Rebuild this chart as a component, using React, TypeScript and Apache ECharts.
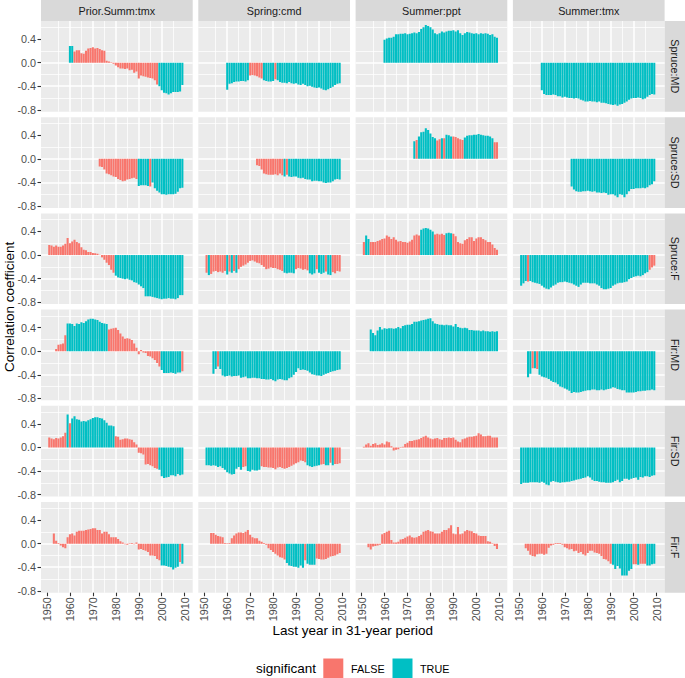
import React, { useEffect, useRef } from 'react';
import * as echarts from 'echarts';

// ---------- labels / ticks ----------
const colLabels = ['Prior.Summ:tmx', 'Spring:cmd', 'Summer:ppt', 'Summer:tmx'];
const rowLabels = ['Spruce:MD', 'Spruce:SD', 'Spruce:F', 'Fir:MD', 'Fir:SD', 'Fir:F'];
const rowStartYears = [1960, 1973, 1951, 1954, 1951, 1953];
const xTickYears = [1950, 1960, 1970, 1980, 1990, 2000, 2010];
const yTickValues = [-0.8, -0.4, 0, 0.4];
const legendLabels = ['FALSE', 'TRUE'];
const xTitle = 'Last year in 31-year period';
const yTitle = 'Correlation coefficient';
const legendTitle = 'significant';

// ---------- Spruce:MD (from 1960) ----------
const spruceMD_priorTmx = [0.28, 0.28, 0.19, 0.21, 0.21, 0.16, 0.15, 0.2, 0.24, 0.25,
  0.26, 0.24, 0.25, 0.23, 0.21, 0.2, 0.03, 0.02, 0.005, -0.02,
  -0.05, -0.08, -0.1, -0.1, -0.11, -0.1, -0.13, -0.12, -0.17, -0.15,
  -0.27, -0.22, -0.23, -0.24, -0.25, -0.26, -0.27, -0.3, -0.37, -0.4,
  -0.47, -0.51, -0.52, -0.54, -0.52, -0.5, -0.5, -0.5, -0.49, -0.38];
const spruceMD_priorTmx_sig = 'TTFFFFFFFF FFFFFFFFFF FFFFFFFFFF FFFFFFFFFT TTTTTTTTTT';
const spruceMD_springCmd = [-0.46, -0.36, -0.35, -0.33, -0.32, -0.32, -0.31, -0.31, -0.32, -0.3,
  -0.22, -0.21, -0.22, -0.23, -0.25, -0.27, -0.3, -0.31, -0.32, -0.32,
  -0.31, -0.28, -0.3, -0.33, -0.34, -0.34, -0.35, -0.33, -0.35, -0.36,
  -0.35, -0.37, -0.38, -0.36, -0.38, -0.4, -0.39, -0.41, -0.42, -0.43,
  -0.42, -0.44, -0.46, -0.47, -0.45, -0.43, -0.41, -0.38, -0.36, -0.35];
const spruceMD_springCmd_sig = 'TTTTTTTTTT FFFFFFTTTT TFTTTTTTTT TTTTTTTTTT TTTTTTTTTT';
const spruceMD_summerPpt = [0.39, 0.41, 0.42, 0.42, 0.44, 0.48, 0.48, 0.49, 0.49, 0.5,
  0.48, 0.49, 0.5, 0.51, 0.5, 0.52, 0.57, 0.6, 0.64, 0.62,
  0.6, 0.56, 0.5, 0.48, 0.5, 0.53, 0.51, 0.53, 0.54, 0.54,
  0.55, 0.53, 0.55, 0.5, 0.47, 0.5, 0.52, 0.51, 0.5, 0.49,
  0.5, 0.48, 0.5, 0.49, 0.5, 0.49, 0.47, 0.48, 0.44, 0.42];
const spruceMD_summerPpt_sig = 'TTTTTTTTTT TTTTTTTTTT TTTTTTTTTT TTTTTTTTTT TTTTTTTTTT';
const spruceMD_summerTmx = [-0.47, -0.53, -0.55, -0.55, -0.55, -0.54, -0.55, -0.57, -0.57, -0.59,
  -0.58, -0.59, -0.6, -0.6, -0.61, -0.6, -0.61, -0.63, -0.64, -0.66,
  -0.66, -0.65, -0.66, -0.66, -0.67, -0.66, -0.68, -0.68, -0.69, -0.7,
  -0.71, -0.72, -0.71, -0.73, -0.71, -0.7, -0.68, -0.66, -0.63, -0.61,
  -0.6, -0.6, -0.59, -0.6, -0.62, -0.61, -0.58, -0.55, -0.53, -0.54];
const spruceMD_summerTmx_sig = 'TTTTTTTTTT TTTTTTTTTT TTTTTTTTTT TTTTTTTTTT TTTTTTTTTT';

// ---------- Spruce:SD (from 1973) ----------
const spruceSD_priorTmx = [-0.13, -0.14, -0.18, -0.25, -0.26, -0.28, -0.3,
  -0.31, -0.34, -0.36, -0.38, -0.37, -0.35, -0.34, -0.33, -0.32, -0.34,
  -0.46, -0.45, -0.45, -0.45, -0.46, -0.47, -0.4, -0.5, -0.54, -0.57,
  -0.6, -0.6, -0.61, -0.6, -0.6, -0.6, -0.59, -0.56, -0.5, -0.49];
const spruceSD_priorTmx_sig = 'FFFFFFF FFFFFFFFFF TTTTTFTTTT TTTTTTTTTT';
const spruceSD_springCmd = [-0.11, -0.12, -0.18, -0.25, -0.26, -0.27, -0.27,
  -0.27, -0.26, -0.28, -0.25, -0.28, -0.3, -0.27, -0.3, -0.31, -0.3,
  -0.3, -0.32, -0.33, -0.32, -0.34, -0.35, -0.35, -0.38, -0.37, -0.37,
  -0.38, -0.38, -0.4, -0.41, -0.4, -0.4, -0.38, -0.35, -0.34, -0.35];
const spruceSD_springCmd_sig = 'FFFFFFF FFFFFTFTTT TTTTTTTTTT TTTTTTTTTT';
const spruceSD_summerPpt = [0.3, 0.32, 0.38, 0.45, 0.46, 0.52, 0.49,
  0.43, 0.37, 0.35, 0.31, 0.33, 0.35, 0.35, 0.41, 0.4, 0.38,
  0.38, 0.37, 0.35, 0.33, 0.32, 0.36, 0.39, 0.4, 0.4, 0.41,
  0.41, 0.42, 0.41, 0.4, 0.39, 0.39, 0.38, 0.35, 0.28, 0.28];
const spruceSD_summerPpt_sig = 'TFTTTTT TTTFFTFTTT FFFFFTTTTT TTTTTTTTFF';
const spruceSD_summerTmx = [-0.47, -0.52, -0.55, -0.56, -0.56, -0.55, -0.55,
  -0.54, -0.55, -0.56, -0.55, -0.57, -0.57, -0.58, -0.57, -0.58, -0.61,
  -0.6, -0.6, -0.62, -0.65, -0.6, -0.61, -0.65, -0.6, -0.55, -0.51,
  -0.51, -0.5, -0.5, -0.5, -0.49, -0.5, -0.48, -0.45, -0.43, -0.38];
const spruceSD_summerTmx_sig = 'TTTTTTT TTTTTTTTTT TTTTTTTTTT TTTTTTTTTT';

// ---------- Spruce:F (from 1951) ----------
const spruceF_priorTmx = [0.17, 0.16, 0.14, 0.16, 0.14, 0.14, 0.16, 0.19, 0.29,
  0.2, 0.23, 0.26, 0.22, 0.2, 0.13, 0.09, 0.08, 0.05, 0.05,
  0.035, 0.03, 0.02, 0.005, -0.04, -0.08, -0.13, -0.17, -0.25, -0.3,
  -0.35, -0.38, -0.39, -0.4, -0.41, -0.4, -0.42, -0.43, -0.46, -0.47,
  -0.5, -0.53, -0.56, -0.7, -0.7, -0.7, -0.71, -0.72, -0.73, -0.74,
  -0.75, -0.74, -0.74, -0.73, -0.74, -0.74, -0.75, -0.73, -0.68, -0.68];
const spruceF_priorTmx_sig = 'FFFFFFFFF FFFFFFFFFF FFFFFFFFFF TTTTTTTTTT TTTTTTTTTT TTTTTTTTTT';
const spruceF_springCmd = [-0.3, -0.34, -0.32, -0.28, -0.27, -0.29, -0.28, -0.3, -0.27,
  -0.33, -0.28, -0.3, -0.27, -0.3, -0.24, -0.2, -0.18, -0.16, -0.13,
  -0.1, -0.09, -0.11, -0.13, -0.14, -0.17, -0.2, -0.24, -0.23, -0.21,
  -0.22, -0.22, -0.24, -0.25, -0.27, -0.3, -0.31, -0.3, -0.3, -0.31,
  -0.24, -0.22, -0.23, -0.25, -0.24, -0.26, -0.31, -0.33, -0.31, -0.24,
  -0.3, -0.32, -0.3, -0.28, -0.33, -0.34, -0.29, -0.31, -0.27, -0.28];
const spruceF_springCmd_sig = 'FTFFFFFFF TFTFTFFFFF FFFFFFFFFF FFFFFTTTTT FFFFFFTTTF TTTFTTFFFF';
const spruceF_summerPpt = [0.22, 0.33, 0.27, 0.22, 0.22, 0.22, 0.24, 0.25, 0.27,
  0.28, 0.33, 0.31, 0.27, 0.3, 0.26, 0.23, 0.24, 0.22, 0.22,
  0.21, 0.23, 0.26, 0.33, 0.35, 0.33, 0.43, 0.45, 0.46, 0.45,
  0.43, 0.4, 0.35, 0.36, 0.35, 0.36, 0.34, 0.37, 0.38, 0.37,
  0.36, 0.32, 0.22, 0.2, 0.19, 0.25, 0.27, 0.3, 0.3, 0.24,
  0.28, 0.3, 0.3, 0.27, 0.25, 0.22, 0.22, 0.18, 0.12, 0.09];
const spruceF_summerPpt_sig = 'FTTFFFFFF FFFFFFFFFF FFFFFFTTTT TTFFFFFTTT FFFFFFFFFF FFFFFFFFFF';
const spruceF_summerTmx = [-0.52, -0.48, -0.44, -0.45, -0.44, -0.46, -0.47, -0.48, -0.49,
  -0.52, -0.55, -0.57, -0.58, -0.55, -0.52, -0.5, -0.47, -0.46, -0.46,
  -0.45, -0.46, -0.47, -0.48, -0.5, -0.52, -0.54, -0.5, -0.47, -0.47,
  -0.47, -0.48, -0.48, -0.48, -0.5, -0.52, -0.56, -0.58, -0.58, -0.57,
  -0.56, -0.52, -0.5, -0.48, -0.47, -0.47, -0.46, -0.45, -0.41, -0.39,
  -0.37, -0.36, -0.35, -0.36, -0.34, -0.31, -0.29, -0.25, -0.21, -0.18];
const spruceF_summerTmx_sig = 'TTTFTTTTT TTTTTTTTTT TTTTTTTTTT TTTTTTTTTT TTTTTTTTTT TTTTTTTFFF';

// ---------- Fir:MD (from 1954) ----------
const firMD_priorTmx = [0.04, 0.11, 0.12, 0.13, 0.27, 0.47,
  0.47, 0.46, 0.43, 0.47, 0.46, 0.49, 0.48, 0.51, 0.54, 0.55,
  0.55, 0.54, 0.53, 0.5, 0.48, 0.47, 0.46, 0.37, 0.38, 0.39,
  0.4, 0.36, 0.3, 0.25, 0.21, 0.22, 0.21, 0.19, 0.13, 0.06,
  -0.05, 0.02, -0.02, -0.03, -0.08, -0.09, -0.12, -0.15, -0.2, -0.26,
  -0.32, -0.37, -0.37, -0.37, -0.36, -0.37, -0.38, -0.36, -0.36, -0.34];
const firMD_priorTmx_sig = 'FFFFFT TTTTTTTTTT TTTTTTTFFF FFFFFFFFFF FFFFFFFFFF TTTTTTTTTF';
const firMD_springCmd = [-0.38, -0.3, -0.26, -0.3, -0.41, -0.43,
  -0.42, -0.41, -0.43, -0.42, -0.42, -0.41, -0.45, -0.44, -0.43, -0.46,
  -0.46, -0.45, -0.45, -0.46, -0.46, -0.47, -0.47, -0.48, -0.48, -0.47,
  -0.49, -0.51, -0.48, -0.47, -0.48, -0.49, -0.49, -0.46, -0.44, -0.4,
  -0.35, -0.29, -0.32, -0.31, -0.32, -0.33, -0.36, -0.39, -0.4, -0.41,
  -0.41, -0.42, -0.4, -0.38, -0.37, -0.35, -0.34, -0.33, -0.32, -0.31];
const firMD_springCmd_sig = 'TTFTTT TTTTTTTTTT TTTTTTTTTT TTTTTTTTTT TTTTTTTTTT TTTTTTTTTT';
const firMD_summerPpt = [0.37, 0.31, 0.27, 0.35, 0.41, 0.37,
  0.39, 0.38, 0.39, 0.39, 0.38, 0.39, 0.41, 0.39, 0.43, 0.44,
  0.45, 0.45, 0.46, 0.5, 0.5, 0.51, 0.52, 0.53, 0.54, 0.55,
  0.56, 0.51, 0.47, 0.46, 0.45, 0.45, 0.44, 0.45, 0.44, 0.44,
  0.42, 0.46, 0.41, 0.4, 0.39, 0.4, 0.39, 0.36, 0.36, 0.35,
  0.35, 0.35, 0.34, 0.35, 0.34, 0.34, 0.33, 0.34, 0.33, 0.34];
const firMD_summerPpt_sig = 'TTTTTT TTTTTTTTTT TTTTTTTTTT TTTTTTTTTT TTTTTTTTTT TTTTTTTTTT';
const firMD_summerTmx = [-0.44, -0.38, -0.29, -0.29, -0.3, -0.4,
  -0.43, -0.44, -0.45, -0.47, -0.5, -0.52, -0.53, -0.56, -0.6, -0.61,
  -0.63, -0.65, -0.67, -0.71, -0.69, -0.7, -0.7, -0.69, -0.68, -0.67,
  -0.66, -0.66, -0.65, -0.65, -0.66, -0.66, -0.65, -0.66, -0.65, -0.64,
  -0.63, -0.61, -0.62, -0.64, -0.65, -0.66, -0.66, -0.7, -0.7, -0.7,
  -0.7, -0.69, -0.68, -0.68, -0.67, -0.67, -0.66, -0.66, -0.65, -0.66];
const firMD_summerTmx_sig = 'TTFTFT TTTTTTTTTT TTTTTTTTTT TTTTTTTTTT TTTTTTTTTT TTTTTTTTTT';

// ---------- Fir:SD (from 1951) ----------
const firSD_priorTmx = [0.17, 0.15, 0.14, 0.16, 0.15, 0.17, 0.19, 0.25, 0.56,
  0.41, 0.49, 0.53, 0.48, 0.47, 0.44, 0.45, 0.44, 0.46, 0.48,
  0.5, 0.51, 0.51, 0.5, 0.49, 0.46, 0.42, 0.37, 0.37, 0.36,
  0.19, 0.18, 0.13, 0.14, 0.15, 0.15, 0.14, 0.13, 0.09, 0.05,
  -0.09, -0.1, -0.12, -0.29, -0.28, -0.3, -0.32, -0.35, -0.36, -0.38,
  -0.49, -0.52, -0.51, -0.5, -0.47, -0.47, -0.49, -0.45, -0.47, -0.46];
const firSD_priorTmx_sig = 'FFFFFFFFT FTTTTTTTTT TTTTTTTTTT FFFFFFFFFF FFFFFFFFFT TTTTTTTTTT';
const firSD_springCmd = [-0.3, -0.3, -0.31, -0.3, -0.31, -0.33, -0.32, -0.35, -0.38,
  -0.42, -0.44, -0.46, -0.45, -0.36, -0.33, -0.38, -0.33, -0.32, -0.4,
  -0.41, -0.38, -0.39, -0.39, -0.38, -0.32, -0.33, -0.33, -0.34, -0.34,
  -0.35, -0.37, -0.34, -0.33, -0.35, -0.36, -0.35, -0.33, -0.31, -0.29,
  -0.27, -0.25, -0.22, -0.23, -0.25, -0.3, -0.32, -0.33, -0.32, -0.31,
  -0.3, -0.29, -0.28, -0.3, -0.3, -0.26, -0.3, -0.28, -0.28, -0.27];
const firSD_springCmd_sig = 'TTTTTTTTT TTTTTTTFFT TTTTTFFFFF FFFFFFFFFF FFFFFTTTTT TFFTTFTFFF';
const firSD_summerPpt = [0.01, 0.05, 0.07, 0.03, 0.06, 0.07, 0.04, 0.05, 0.07,
  0.05, 0.1, 0.09, 0.02, -0.05, -0.04, -0.03, -0.01, 0.01, 0.06,
  0.08, 0.11, 0.11, 0.12, 0.13, 0.14, 0.16, 0.18, 0.2, 0.17,
  0.15, 0.14, 0.15, 0.16, 0.14, 0.13, 0.16, 0.16, 0.17, 0.16,
  0.17, 0.13, 0.1, 0.09, 0.14, 0.15, 0.17, 0.18, 0.18, 0.19,
  0.2, 0.24, 0.22, 0.19, 0.19, 0.2, 0.2, 0.17, 0.17, 0.17];
const firSD_summerPpt_sig = 'FFFFFFFFF FFFFFFFFFF FFFFFFFFFF FFFFFFFFFF FFFFFFFFFF FFFFFFFFFF';
const firSD_summerTmx = [-0.62, -0.6, -0.6, -0.6, -0.59, -0.59, -0.59, -0.59, -0.6,
  -0.58, -0.6, -0.63, -0.64, -0.58, -0.57, -0.58, -0.59, -0.6, -0.59,
  -0.59, -0.58, -0.58, -0.57, -0.56, -0.55, -0.54, -0.53, -0.52, -0.51,
  -0.49, -0.51, -0.55, -0.57, -0.57, -0.58, -0.59, -0.59, -0.6, -0.6,
  -0.6, -0.59, -0.57, -0.55, -0.59, -0.57, -0.53, -0.53, -0.55, -0.53,
  -0.52, -0.51, -0.55, -0.5, -0.51, -0.49, -0.49, -0.5, -0.48, -0.47];
const firSD_summerTmx_sig = 'TTTTTTTTT TTTTTTTTTT TTTTTTTTTT TTTTTTTTTT TTTTTTTTTT TTTTTTTTTT';

// ---------- Fir:F (from 1953) ----------
const firF_priorTmx = [0.17, 0.05, 0.01, -0.03, -0.06, -0.08, 0.11,
  0.16, 0.17, 0.14, 0.2, 0.22, 0.22, 0.22, 0.23, 0.24, 0.25,
  0.26, 0.26, 0.23, 0.23, 0.17, 0.2, 0.2, 0.16, 0.11, 0.11,
  0.11, 0.08, 0.04, 0.02, -0.01, -0.02, 0.005, 0.01, -0.01, 0.02,
  -0.1, -0.09, -0.11, -0.12, -0.14, -0.2, -0.2, -0.21, -0.26, -0.28,
  -0.37, -0.37, -0.38, -0.39, -0.4, -0.44, -0.41, -0.39, -0.31, -0.34];
const firF_priorTmx_sig = 'FFFFFFF FFFFFFFFFF FFFFFFFFFF FFFFFFFFFF FFFFFFFFFF TTTTTTTTFT';
const firF_springCmd = [0.18, 0.18, 0.15, 0.13, 0.12, 0.11, 0.01,
  0.005, 0.01, 0.09, 0.14, 0.17, 0.19, 0.19, 0.18, 0.2, 0.23,
  0.15, 0.11, 0.09, 0.09, 0.05, 0.03, 0.01, -0.02, -0.08, -0.11,
  -0.14, -0.17, -0.2, -0.23, -0.24, -0.27, -0.33, -0.37, -0.38, -0.39,
  -0.39, -0.41, -0.37, -0.41, -0.28, -0.34, -0.36, -0.36, -0.36, -0.25,
  -0.26, -0.27, -0.27, -0.26, -0.24, -0.22, -0.21, -0.2, -0.18, -0.16];
const firF_springCmd_sig = 'FFFFFFF FFFFFFFFFF FFFFFFFFFF FFFFFFTTTT TTTTFTTTTF FFFFFFFFFF';
const firF_summerPpt = [-0.06, -0.1, -0.05, -0.04, -0.03, -0.02, 0.16,
  0.18, 0.2, 0.22, 0.06, 0.02, 0.02, 0.03, 0.07, 0.08, 0.1,
  0.12, 0.14, 0.11, 0.1, 0.11, 0.13, 0.15, 0.2, 0.22, 0.23,
  0.21, 0.2, 0.17, 0.17, 0.17, 0.2, 0.23, 0.23, 0.26, 0.31,
  0.17, 0.16, 0.28, 0.16, 0.17, 0.21, 0.23, 0.22, 0.21, 0.18,
  0.17, 0.14, 0.13, 0.13, 0.13, 0.04, 0.03, 0.005, -0.04, -0.09];
const firF_summerPpt_sig = 'FFFFFFF FFFFFFFFFF FFFFFFFFFF FFFFFFFFFF FFFFFFFFFF FFFFFFFFFF';
const firF_summerTmx = [-0.08, -0.12, -0.19, -0.21, -0.22, -0.18, -0.17,
  -0.17, -0.19, -0.17, -0.07, -0.03, -0.02, 0.01, 0.01, 0.01, -0.02,
  -0.06, -0.08, -0.1, -0.09, -0.13, -0.12, -0.16, -0.14, -0.18, -0.2,
  -0.16, -0.12, -0.12, -0.15, -0.16, -0.17, -0.21, -0.26, -0.27, -0.3,
  -0.34, -0.36, -0.43, -0.38, -0.42, -0.54, -0.54, -0.54, -0.46, -0.43,
  -0.35, -0.35, -0.36, -0.34, -0.34, -0.34, -0.37, -0.37, -0.35, -0.34];
const firF_summerTmx_sig = 'FFFFFFF FFFFFFFFFF FFFFFFFFFF FFFFFFFFFF FTTTTTTTTT FFTFFFTTTT';

const panelValues = [
  [spruceMD_priorTmx, spruceMD_springCmd, spruceMD_summerPpt, spruceMD_summerTmx],
  [spruceSD_priorTmx, spruceSD_springCmd, spruceSD_summerPpt, spruceSD_summerTmx],
  [spruceF_priorTmx, spruceF_springCmd, spruceF_summerPpt, spruceF_summerTmx],
  [firMD_priorTmx, firMD_springCmd, firMD_summerPpt, firMD_summerTmx],
  [firSD_priorTmx, firSD_springCmd, firSD_summerPpt, firSD_summerTmx],
  [firF_priorTmx, firF_springCmd, firF_summerPpt, firF_summerTmx],
];
const panelSig = [
  [spruceMD_priorTmx_sig, spruceMD_springCmd_sig, spruceMD_summerPpt_sig, spruceMD_summerTmx_sig],
  [spruceSD_priorTmx_sig, spruceSD_springCmd_sig, spruceSD_summerPpt_sig, spruceSD_summerTmx_sig],
  [spruceF_priorTmx_sig, spruceF_springCmd_sig, spruceF_summerPpt_sig, spruceF_summerTmx_sig],
  [firMD_priorTmx_sig, firMD_springCmd_sig, firMD_summerPpt_sig, firMD_summerTmx_sig],
  [firSD_priorTmx_sig, firSD_springCmd_sig, firSD_summerPpt_sig, firSD_summerTmx_sig],
  [firF_priorTmx_sig, firF_springCmd_sig, firF_summerPpt_sig, firF_summerTmx_sig],
];

const COLOR_FALSE = '#F8766D';
const COLOR_TRUE = '#00BFC4';
const FONT = "'Liberation Sans', Arial, Helvetica, sans-serif";

// layout (px)
const L0 = 41;
const T0 = 21;
const PW = 151.7;
const PH = 90.7;
const DX = 157.3;
const DY = 96.2;

function buildOption() {
  const grid: any[] = [];
  const xAxis: any[] = [];
  const yAxis: any[] = [];
  const series: any[] = [];

  for (let r = 0; r < 6; r++) {
    for (let c = 0; c < 4; c++) {
      const idx = r * 4 + c;
      grid.push({
        left: L0 + c * DX,
        top: T0 + r * DY,
        width: PW,
        height: PH,
        show: true,
        backgroundColor: '#EBEBEB',
        borderWidth: 0,
        containLabel: false,
      });
      xAxis.push({
        type: 'value',
        gridIndex: idx,
        position: 'bottom',
        min: 1947.4,
        max: 2013.5,
        minInterval: 10,
        maxInterval: 10,
        axisLine: { show: false, onZero: false },
        axisTick: {
          show: r === 5,
          length: 3.5,
          customValues: xTickYears,
          lineStyle: { color: '#333333', width: 1.1 },
        },
        axisLabel: {
          show: r === 5,
          customValues: xTickYears,
          rotate: 90,
          margin: 4.5,
          fontSize: 10.8,
          fontFamily: FONT,
          color: '#4D4D4D',
          formatter: (v: number) => String(Math.round(v)),
        },
        splitLine: {
          show: true,
          showMinLine: false,
          showMaxLine: false,
          lineStyle: { color: '#FFFFFF', width: 1.5 },
        },
        minorTick: { show: false, splitNumber: 2 },
        minorSplitLine: { show: true, lineStyle: { color: '#FFFFFF', width: 0.75 } },
      });
      yAxis.push({
        type: 'value',
        gridIndex: idx,
        position: 'left',
        min: -0.832,
        max: 0.706,
        minInterval: 0.4,
        maxInterval: 0.4,
        axisLine: { show: false, onZero: false },
        axisTick: {
          show: c === 0,
          length: 3.5,
          customValues: yTickValues,
          lineStyle: { color: '#333333', width: 1.1 },
        },
        axisLabel: {
          show: c === 0,
          customValues: yTickValues,
          margin: 5,
          fontSize: 10.8,
          fontFamily: FONT,
          color: '#4D4D4D',
          formatter: (v: number) => (Math.abs(v) < 1e-9 ? 0 : v).toFixed(1),
        },
        splitLine: {
          show: true,
          showMinLine: false,
          showMaxLine: false,
          lineStyle: { color: '#FFFFFF', width: 1.5 },
        },
        minorTick: { show: false, splitNumber: 2 },
        minorSplitLine: { show: true, lineStyle: { color: '#FFFFFF', width: 0.75 } },
      });

      const vals = panelValues[r][c];
      const sig = panelSig[r][c].replace(/\s+/g, '');
      const start = rowStartYears[r];
      const data = vals.map((v, i) => [start + i, v, sig[i] === 'T' ? 1 : 0]);
      series.push({
        type: 'custom',
        name: `${rowLabels[r]} ${colLabels[c]}`,
        xAxisIndex: idx,
        yAxisIndex: idx,
        dimensions: ['year', 'value', 'significant'],
        encode: { x: 0, y: 1 },
        clip: true,
        data,
        renderItem: (params: any, api: any) => {
          const yr = api.value(0);
          const v = api.value(1);
          const s = api.value(2);
          const p0 = api.coord([yr - 0.45, v]);
          const p1 = api.coord([yr + 0.45, 0]);
          return {
            type: 'rect',
            shape: {
              x: p0[0],
              y: Math.min(p0[1], p1[1]),
              width: p1[0] - p0[0],
              height: Math.abs(p1[1] - p0[1]),
            },
            style: { fill: s ? COLOR_TRUE : COLOR_FALSE },
          };
        },
      });
    }
  }

  const elements: any[] = [];
  // top strips
  for (let c = 0; c < 4; c++) {
    elements.push({
      type: 'rect',
      silent: true,
      shape: { x: L0 + c * DX, y: 0, width: PW, height: T0 },
      style: { fill: '#D9D9D9' },
    });
    elements.push({
      type: 'text',
      silent: true,
      x: L0 + c * DX + PW / 2,
      y: 11,
      style: {
        text: colLabels[c],
        fontSize: 10.8,
        fontFamily: FONT,
        fill: '#1A1A1A',
        align: 'center',
        verticalAlign: 'middle',
        textAlign: 'center',
        textVerticalAlign: 'middle',
      },
    });
  }
  // right strips
  const stripX = L0 + 3 * DX + PW;
  for (let r = 0; r < 6; r++) {
    elements.push({
      type: 'rect',
      silent: true,
      shape: { x: stripX, y: T0 + r * DY, width: 685 - stripX, height: PH },
      style: { fill: '#D9D9D9' },
    });
    elements.push({
      type: 'text',
      silent: true,
      x: stripX + 10.3,
      y: T0 + r * DY + PH / 2,
      rotation: -Math.PI / 2,
      style: {
        text: rowLabels[r],
        fontSize: 10.8,
        fontFamily: FONT,
        fill: '#1A1A1A',
        align: 'center',
        verticalAlign: 'middle',
        textAlign: 'center',
        textVerticalAlign: 'middle',
      },
    });
  }
  // axis titles
  const plotBottom = T0 + 5 * DY + PH;
  elements.push({
    type: 'text',
    silent: true,
    x: 9.5,
    y: (T0 + plotBottom) / 2,
    rotation: Math.PI / 2,
    style: {
      text: yTitle,
      fontSize: 13.5,
      fontFamily: FONT,
      fill: '#000000',
      align: 'center',
      verticalAlign: 'middle',
      textAlign: 'center',
      textVerticalAlign: 'middle',
    },
  });
  elements.push({
    type: 'text',
    silent: true,
    x: (L0 + stripX) / 2,
    y: 630.7,
    style: {
      text: xTitle,
      fontSize: 13.5,
      fontFamily: FONT,
      fill: '#000000',
      align: 'center',
      verticalAlign: 'middle',
      textAlign: 'center',
      textVerticalAlign: 'middle',
    },
  });
  // legend
  const legY = 668.5;
  elements.push({
    type: 'text',
    silent: true,
    x: 256,
    y: legY,
    style: {
      text: legendTitle,
      fontSize: 13.5,
      fontFamily: FONT,
      fill: '#000000',
      align: 'left',
      verticalAlign: 'middle',
      textAlign: 'left',
      textVerticalAlign: 'middle',
    },
  });
  const keyX = [323.3, 392.5];
  const labX = [351, 420];
  const keyColors = [COLOR_FALSE, COLOR_TRUE];
  for (let i = 0; i < 2; i++) {
    elements.push({
      type: 'rect',
      silent: true,
      shape: { x: keyX[i], y: legY - 10, width: 20, height: 20 },
      style: { fill: keyColors[i] },
    });
    elements.push({
      type: 'text',
      silent: true,
      x: labX[i],
      y: legY,
      style: {
        text: legendLabels[i],
        fontSize: 10.8,
        fontFamily: FONT,
        fill: '#000000',
        align: 'left',
        verticalAlign: 'middle',
        textAlign: 'left',
        textVerticalAlign: 'middle',
      },
    });
  }

  return {
    animation: false,
    backgroundColor: '#FFFFFF',
    textStyle: { fontFamily: FONT },
    grid,
    xAxis,
    yAxis,
    series,
    graphic: { elements },
  };
}

export default function App() {
  const ref = useRef<HTMLDivElement>(null);
  useEffect(() => {
    if (!ref.current) return;
    const chart = echarts.init(ref.current, null, { renderer: 'svg' });
    chart.setOption(buildOption() as any);
    return () => {
      chart.dispose();
    };
  }, []);
  return (
    <div
      ref={ref}
      style={{ position: 'absolute', left: 0, top: 0, width: 685, height: 678 }}
    />
  );
}
